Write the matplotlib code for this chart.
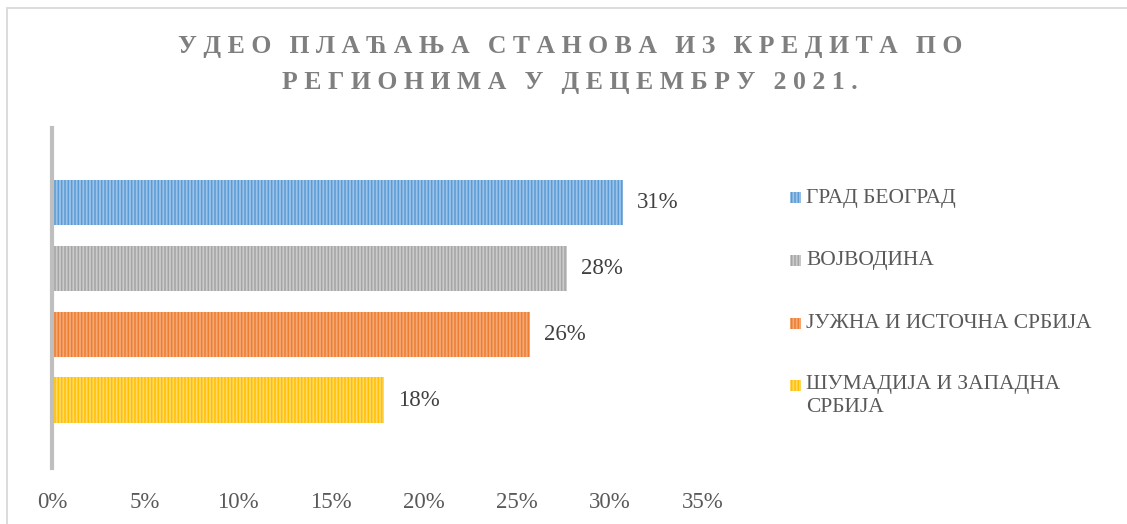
import matplotlib
matplotlib.use('Agg')
import matplotlib.pyplot as plt
from matplotlib.patches import Rectangle
from matplotlib.ticker import FuncFormatter, MultipleLocator

# chart data (shares of flat payments financed by loans, Dec 2021)
regions = ['ГРАД БЕОГРАД', 'ВОЈВОДИНА', 'ЈУЖНА И ИСТОЧНА СРБИЈА', 'ШУМАДИЈА И ЗАПАДНА\nСРБИЈА']
shares = [0.307, 0.277, 0.257, 0.1785]
title_lines = ['УДЕО ПЛАЋАЊА СТАНОВА ИЗ КРЕДИТА ПО', 'РЕГИОНИМА У ДЕЦЕМБРУ 2021.']

# colours: light base + darker vertical stripes
face_colors = ['#9cc3e8', '#cbcbcb', '#f5aa76', '#ffd866']
stripe_colors = ['#5b9bd5', '#a5a5a5', '#ed7d31', '#ffc000']

W, H = 1127, 524
plt.rcParams['font.family'] = ['Liberation Serif', 'DejaVu Serif']
plt.rcParams['hatch.linewidth'] = 1.1

fig = plt.figure(figsize=(W / 100, H / 100), dpi=100)

def fx(px):
    return px / W

def fy(py):
    return 1 - py / H

# axes placed in pixels: 0% at x=52, 35% at x=703, y-axis line from 128 to 468
ax = fig.add_axes([fx(52), fy(468), fx(703) - fx(52), (468 - 128) / H])

ypos = list(range(len(regions)))
for i, (val, fc, sc) in enumerate(zip(shares, face_colors, stripe_colors)):
    ax.barh(ypos[i], val, height=0.69, color=fc, edgecolor=sc, linewidth=0, hatch='|||||')
    ax.annotate(f'{val*100:.0f}%', (val, ypos[i]), xytext=(10, 0), textcoords='offset points',
                va='center', ha='left', fontsize=16.5, color='#404040')

ax.set_xlim(0, 0.35)
ax.set_ylim(3 + 1.03, -1.13)
ax.xaxis.set_major_locator(MultipleLocator(0.05))
ax.xaxis.set_major_formatter(FuncFormatter(lambda x, p: f'{x*100:.0f}%'))
ax.tick_params(axis='x', length=0, pad=17, labelsize=16.5, labelcolor='#595959')
ax.set_yticks([])
for s in ['top', 'right', 'bottom']:
    ax.spines[s].set_visible(False)
ax.spines['left'].set_color('#bfbfbf')
ax.spines['left'].set_linewidth(3)

# title, letter-spaced by hand
for line, ty in zip(title_lines, [46, 83]):
    spaced = '  \u2009'.join(' '.join(list(w)) for w in line.split(' '))
    fig.text(fx(570), fy(ty), spaced, ha='center', va='center', fontsize=18.5,
             fontweight='bold', color='#7f7f7f')

# legend drawn on the right, each text line placed separately
leg_y = [198, 260, 323, 385]
for name, fc, sc, ly in zip(regions, face_colors, stripe_colors, leg_y):
    fig.patches.append(Rectangle((fx(790), fy(ly + 5.5)), 11 / W, 11 / H, transform=fig.transFigure,
                                 facecolor=fc, edgecolor=sc, linewidth=0, hatch='|||||'))
    for k, part in enumerate(name.split('\n')):
        fig.text(fx(806), fy(ly + 23 * k), part, ha='left', va='center', fontsize=15.5,
                 color='#595959')

# chart frame (cut off at right and bottom)
fig.patches.append(Rectangle((fx(7), -0.2), 2, fy(8) + 0.2, transform=fig.transFigure,
                             fill=False, edgecolor='#d9d9d9', linewidth=1.3))

fig.savefig('out.png', dpi=100)
